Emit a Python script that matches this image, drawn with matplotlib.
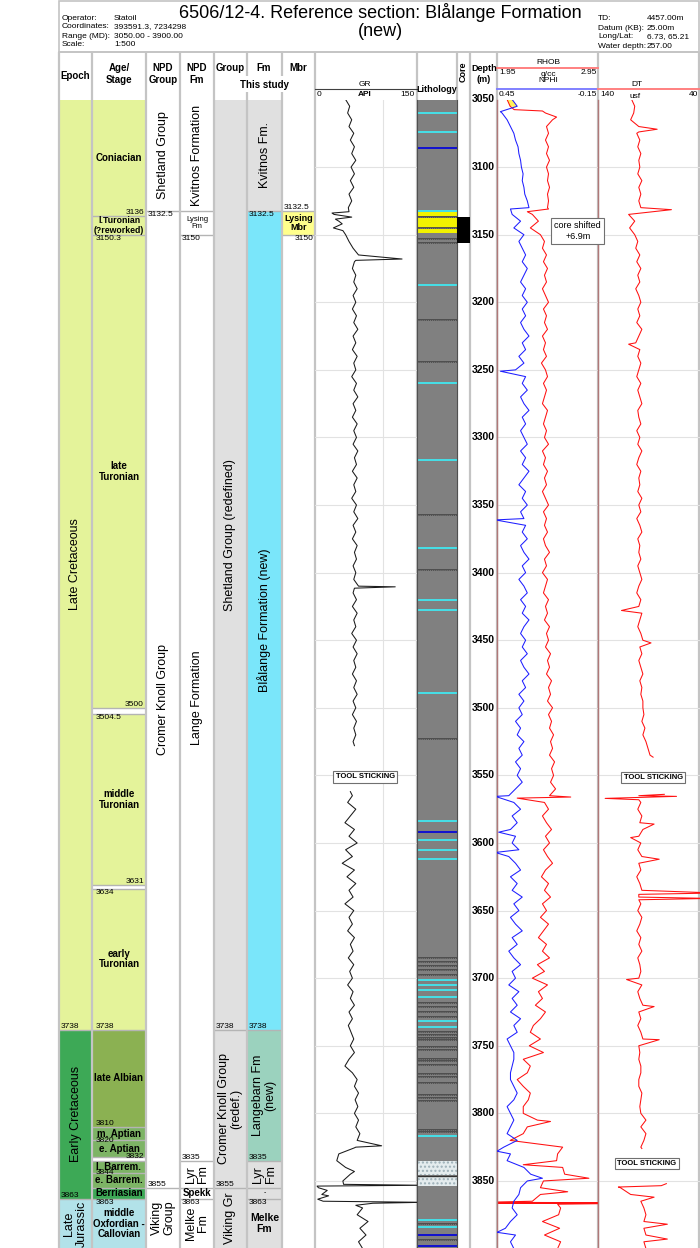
"""Well 6506/12-4: reference section for the Blålange Formation (new)."""

import numpy as np
import matplotlib
matplotlib.use("Agg")
import matplotlib.pyplot as plt
from matplotlib import font_manager
from matplotlib.patches import Rectangle

nan = np.nan

# ---------------- stratigraphy (m MD) ----------------
EPOCH_NAMES = ["Late Cretaceous", "Early Cretaceous", "Late\nJurassic"]
EPOCH_TOPS = [3050, 3738, 3863]
EPOCH_BASES = [3738, 3863, 3900]
EPOCH_COLORS = ["#E4F39A", "#3DA956", "#B2E2E9"]
EPOCH_PICKS = [(3738, "l", "above"), (3863, "l", "above")]

STAGE_NAMES = ["Coniacian", "l.Turonian\n(?reworked)", "late\nTuronian", "",
               "middle\nTuronian", "", "early\nTuronian", "late Albian",
               "m. Aptian", "e. Aptian", "", "l. Barrem.", "e. Barrem.",
               "Berriasian", "middle\nOxfordian -\nCallovian"]
STAGE_TOPS = [3050, 3136, 3150.3, 3500, 3504.5, 3631, 3634, 3738, 3810,
              3820, 3832, 3835, 3844, 3855, 3863]
STAGE_BASES = [3136, 3150.3, 3500, 3504.5, 3631, 3634, 3738, 3810, 3820,
               3832, 3835, 3844, 3855, 3863, 3900]
STAGE_COLORS = ["#E4F39A", "#E4F39A", "#E4F39A", "white", "#E4F39A", "white",
                "#E4F39A", "#8BB152", "#7DB465", "#7DB465", "white", "#7DB465",
                "#7DB465", "#3DA956", "#B2E2E9"]
STAGE_SIZE = [7, 6.3, 7, 7, 7, 7, 7, 7, 7, 7, 7, 7, 7, 7, 7]
STAGE_PICKS = [(3136, "r", "above"), (3150.3, "l", "below"), (3500, "r", "above"),
               (3504.5, "l", "below"), (3631, "r", "above"), (3634, "l", "below"),
               (3738, "l", "above"), (3810, "l", "above"), (3820, "l", "on"),
               (3832, "r", "on"), (3844, "l", "on"), (3863, "l", "below")]

NPD_GROUP_NAMES = ["Shetland Group", "Cromer Knoll Group", "Viking\nGroup"]
NPD_GROUP_TOPS = [3050, 3132.5, 3855]
NPD_GROUP_BASES = [3132.5, 3855, 3900]
NPD_GROUP_PICKS = [(3132.5, "l", "below"), (3855, "l", "above")]

NPD_FM_NAMES = ["Kvitnos Formation", "Lysing\nFm", "Lange Formation", "Lyr\nFm",
                "Spekk", "Melke\nFm"]
NPD_FM_TOPS = [3050, 3132.5, 3150, 3835, 3855, 3863]
NPD_FM_BASES = [3132.5, 3150, 3835, 3855, 3863, 3900]
NPD_FM_ROT = [90, 0, 90, 90, 0, 90]
NPD_FM_SIZE = [9, 5.5, 9, 9, 7, 9]
NPD_FM_WEIGHT = ["normal", "normal", "normal", "normal", "bold", "normal"]
NPD_FM_PICKS = [(3150, "l", "below"), (3835, "l", "above"), (3863, "l", "below")]

GROUP_NAMES = ["Shetland Group (redefined)", "Cromer Knoll Group\n(redef.)", "Viking Gr"]
GROUP_TOPS = [3050, 3738, 3855]
GROUP_BASES = [3738, 3855, 3900]
GROUP_LABEL_AT = [3372, None, None]
GROUP_PICKS = [(3738, "l", "above"), (3855, "l", "above")]

FM_NAMES = ["Kvitnos Fm.", "Blålange Formation (new)", "Langebarn Fm\n(new)",
            "Lyr\nFm", "-", "Melke\nFm"]
FM_TOPS = [3050, 3132.5, 3738, 3835, 3855, 3863]
FM_BASES = [3132.5, 3738, 3835, 3855, 3863, 3900]
FM_COLORS = ["#E0E0E0", "#7AE6FA", "#9BD2BE", "#E0E0E0", "#E0E0E0", "#E0E0E0"]
FM_ROT = [90, 90, 90, 90, 0, 0]
FM_SIZE = [9, 9, 9, 9, 5, 7.5]
FM_WEIGHT = ["normal"] * 5 + ["bold"]
FM_PICKS = [(3132.5, "l", "below"), (3738, "l", "above"), (3835, "l", "above"),
            (3863, "l", "below")]

MBR_NAMES = ["", "Lysing\nMbr", ""]
MBR_TOPS = [3050, 3132.5, 3150]
MBR_BASES = [3132.5, 3150, 3900]
MBR_COLORS = ["white", "#FFFF8C", "white"]
MBR_PICKS = [(3132.5, "l", "above"), (3150, "r", "below")]

# ---------------- lithology / core ----------------
LITH_CYAN = [3060, 3074, 3132.5, 3187, 3260, 3317, 3382, 3420, 3428, 3489,
             3584, 3598, 3605, 3612, 3701, 3705, 3709, 3714, 3732, 3736,
             3817, 3879, 3884]
LITH_BLUE = [3086, 3592, 3890, 3898]
LITH_MARL = [3137, 3145, 3153.5, 3156, 3213, 3244, 3357, 3398, 3523, 3685,
             3688, 3691, 3694, 3697.5, 3718, 3721, 3725, 3729, 3739.5, 3742,
             3744, 3746, 3751, 3753, 3759.5, 3761, 3764.5, 3771, 3773, 3777.5,
             3786.5, 3789, 3791, 3812, 3813.5, 3882, 3894]
LITH_YELLOW_TOPS = [3133.5, 3137.5, 3145.5]
LITH_YELLOW_BASES = [3136.5, 3144.8, 3148.5]
LITH_SAND_TOPS = [3835, 3846.8]
LITH_SAND_BASES = [3845.8, 3853.5]
CORE_TOP, CORE_BASE = 3137, 3156

# ---------------- logs (5 m samples + spikes) ----------------
DEPTH = np.arange(3050, 3901, 5)
DEPTH_TICKS = list(range(3050, 3851, 50))

GR = [45, 51, 48, 54, 50, 57, 52, 58, 54, 60,   # 3050
      53, 58, 52, 57, 50, 54, 49, 28, 35, 27,   # 3100
      45, 50, 56, 64, 58, 55, 60, 57, 62, 56,   # 3150
      60, 55, 61, 57, 63, 56, 60, 55, 62, 57,   # 3200
      60, 54, 61, 57, 63, 56, 60, 55, 62, 57,   # 3250
      61, 56, 63, 58, 61, 55, 62, 57, 60, 54,   # 3300
      61, 57, 63, 56, 60, 55, 62, 58, 61, 56,   # 3350
      60, 57, 64, 56, 61, 55, 62, 57, 60, 54,   # 3400
      61, 56, 62, 57, 60, 55, 61, 57, 62, 56,   # 3450
      60, 55, 61, 57, 60, 56, nan, nan, nan, nan,   # 3500
      nan, nan, nan, 55, 48, 60, 52, 44, 58, 50,    # 3550
      62, 45, 55, 40, 58, 47, 60, 50, 56, 44,   # 3600
      57, 50, 55, 48, 58, 52, 56, 49, 57, 51,   # 3650
      55, 48, 56, 52, 58, 50, 55, 49, 53, 57,   # 3700
      52, 58, 50, 44, 55, 62, 58, 64, 59, 63,   # 3750
      58, 64, 60, 66, 62, 60, 35, 32, 45, 52,   # 3800
      41, 5, 10, 12, 70, 62, 78, 66, 75, 64,    # 3850
      70]
GR_SPIKE_D = [3133, 3134, 3137, 3138.5, 3142, 3147, 3168, 3169, 3410.5, 3411.5,
              3528, 3562, 3824, 3825.5, 3843, 3852.5, 3853.2, 3853.8, 3857, 3861,
              3863.5, 3865.8, 3866.5, 3868]
GR_SPIKE_V = [50, 25, 54, 30, 40, 41, 128, 60, 118, 58,
              58, 52, 98, 58, 58, 42, 160, 3, 18, 20,
              4, 160, 85, 60]

RHOB = [2.05, 2.08, 2.43, 2.50, 2.44, 2.46, 2.43, 2.46, 2.44, 2.47,   # 3050
        2.44, 2.46, 2.45, 2.47, 2.45, 2.46, 2.45, 2.30, 2.36, 2.28,   # 3100
        2.38, 2.42, 2.40, 2.44, 2.41, 2.45, 2.42, 2.44, 2.40, 2.43,   # 3150
        2.46, 2.41, 2.44, 2.42, 2.45, 2.40, 2.43, 2.41, 2.44, 2.39,   # 3200
        2.43, 2.45, 2.41, 2.44, 2.42, 2.40, 2.45, 2.43, 2.41, 2.44,   # 3250
        2.42, 2.46, 2.40, 2.43, 2.41, 2.45, 2.42, 2.44, 2.40, 2.43,   # 3300
        2.46, 2.41, 2.44, 2.42, 2.45, 2.41, 2.43, 2.47, 2.42, 2.44,   # 3350
        2.40, 2.45, 2.43, 2.41, 2.46, 2.43, 2.45, 2.42, 2.47, 2.44,   # 3400
        2.46, 2.43, 2.48, 2.45, 2.47, 2.44, 2.49, 2.46, 2.48, 2.45,   # 3450
        2.50, 2.46, 2.49, 2.47, 2.51, 2.48, 2.50, 2.47, 2.52, 2.49,   # 3500
        2.51, 2.48, 2.53, 2.47, 2.42, 2.46, 2.40, 2.44, 2.49, 2.43,   # 3550
        2.47, 2.41, 2.45, 2.50, 2.43, 2.39, 2.46, 2.42, 2.48, 2.40,   # 3600
        2.44, 2.38, 2.46, 2.41, 2.36, 2.44, 2.40, 2.47, 2.35, 2.42,   # 3650
        2.30, 2.45, 2.36, 2.40, 2.33, 2.43, 2.38, 2.31, 2.28, 2.38,   # 3700
        2.27, 2.41, 2.21, 2.28, 2.25, 2.15, 2.21, 2.28, 2.26, 2.21,   # 3750
        2.21, 2.35, 2.25, 2.21, 2.08, 2.60, 2.55, 2.54, 2.60, 2.62,   # 3800
        2.41, 2.38, 2.38, 2.30, 2.58, 2.56, 2.40, 2.57, 2.42, 2.58,   # 3850
        2.55]
RHOB_SPIKE_D = [3057.5, 3058.5, 3063, 3131, 3133, 3566, 3566.8, 3806, 3838,
                3848, 3858, 3865.8, 3866.1, 3866.4, 3866.7, 3867.2]
RHOB_SPIKE_V = [2.12, 2.40, 2.54, 2.46, 2.25, 2.68, 2.15, 2.48, 2.21,
                2.86, 2.65, 1.80, 3.10, 1.80, 3.10, 2.55]

NPHI = [0.36, 0.33, 0.42, 0.39, 0.37, 0.35, 0.34, 0.325, 0.32, 0.31,   # 3050
        0.305, 0.295, 0.30, 0.29, 0.285, 0.27, 0.26, 0.36, 0.31, 0.35,  # 3100
        0.29, 0.32, 0.30, 0.28, 0.30, 0.27, 0.29, 0.31, 0.28, 0.30,   # 3150
        0.27, 0.30, 0.28, 0.31, 0.29, 0.26, 0.30, 0.28, 0.32, 0.29,   # 3200
        0.34, 0.28, 0.30, 0.27, 0.31, 0.29, 0.26, 0.30, 0.28, 0.31,   # 3250
        0.29, 0.27, 0.31, 0.28, 0.30, 0.26, 0.29, 0.32, 0.28, 0.30,   # 3300
        0.27, 0.31, 0.29, 0.28, 0.30, 0.27, 0.31, 0.29, 0.26, 0.30,   # 3350
        0.28, 0.32, 0.29, 0.27, 0.31, 0.28, 0.30, 0.26, 0.29, 0.31,   # 3400
        0.28, 0.30, 0.27, 0.31, 0.29, 0.26, 0.30, 0.28, 0.32, 0.29,   # 3450
        0.32, 0.30, 0.34, 0.31, 0.33, 0.29, 0.32, 0.30, 0.34, 0.31,   # 3500
        0.33, 0.30, 0.34, 0.38, 0.35, 0.31, 0.36, 0.33, 0.37, 0.34,   # 3550
        0.36, 0.32, 0.38, 0.34, 0.31, 0.37, 0.33, 0.36, 0.30, 0.35,   # 3600
        0.32, 0.37, 0.34, 0.30, 0.36, 0.33, 0.38, 0.35, 0.31, 0.36,   # 3650
        0.34, 0.38, 0.32, 0.36, 0.33, 0.37, 0.31, 0.35, 0.33, 0.39,   # 3700
        0.37, 0.35, 0.35, 0.36, 0.37, 0.37, 0.35, 0.33, 0.35, 0.39,   # 3750
        0.37, 0.35, 0.37, 0.39, 0.33, 0.41, 0.37, 0.39, 0.29, 0.25,   # 3800
        0.27, 0.31, 0.32, 0.35, 0.36, 0.33, 0.37, 0.40, 0.34, 0.37,   # 3850
        0.35]
NPHI_SPIKE_D = [3059, 3131, 3251, 3361, 3565.5, 3592, 3607, 3828, 3848, 3888]
NPHI_SPIKE_V = [0.43, 0.37, 0.43, 0.46, 0.46, 0.44, 0.46, 0.45, 0.18, 0.45]

DT = [107, 104, 105, 108, 100, 102, 99, 101, 98, 100,   # 3050
      99, 101, 97, 100, 98, 100, 98, 110, 104, 109,     # 3100
      104, 101, 103, 99, 102, 98, 101, 99, 103, 100,    # 3150
      98, 101, 99, 102, 97, 100, 103, 99, 101, 98,      # 3200
      100, 102, 98, 101, 99, 97, 101, 100, 98, 102,     # 3250
      99, 101, 97, 100, 102, 98, 100, 99, 101, 97,      # 3300
      100, 98, 102, 99, 97, 101, 99, 100, 98, 101,      # 3350
      99, 97, 100, 102, 98, 100, 97, 99, 101, 98,       # 3400
      96, 99, 97, 100, 98, 96, 99, 97, 98, 96,          # 3450
      96, 95, 97, 94, 96, 93, 91, 89, nan, nan,         # 3500
      nan, nan, nan, 100, 98, 101, 97, 99, 96, 100,     # 3550
      98, 101, 97, 100, 98, 102, 99, 97, 100, 98,       # 3600
      101, 97, 99, 102, 98, 100, 97, 101, 99, 98,       # 3650
      100, 97, 101, 99, 96, 100, 98, 101, 98, 96,       # 3700
      100, 99, 100, 98, 98, 100, 100, 97, 98, 99,       # 3750
      98, 93, 98, 93, 95, 98, nan, nan, nan, nan,       # 3800
      nan, 118, 108, 98, 95, 93, 95, 95, 93, 95,        # 3850
      93]
DT_SPIKE_D = [3072, 3074, 3131.5, 3231, 3428, 3452, 3536.5, 3564, 3565.5, 3567,
              3568, 3586, 3596, 3612, 3637, 3638, 3641, 3642, 3701, 3721,
              3745.5, 3826, 3852, 3853.5, 3854.5, 3862, 3882, 3893]
DT_SPIKE_V = [82, 100, 68, 110, 117, 88, 86, 75, 63, 133,
              100, 85, 108, 80, 25, 100, 30, 100, 112, 85,
              80, 97, 73, 78, 120, 85, 72, 72]

for series in (GR, RHOB, NPHI, DT):
    assert len(series) == len(DEPTH)

# ---------------- layout (pixels) ----------------
W, H = 700, 1248
TOP_PX, BOT_PX = 99.5, 1248.0
D_TOP, D_BOT = 3050.0, 3899.6
COLS = {"epoch": (59, 92), "age": (92, 146), "npd_group": (146, 180),
        "npd_fm": (180, 214), "group": (214, 247), "fm": (247, 282),
        "mbr": (282, 315), "gr": (315, 417), "lith": (417, 457),
        "core": (457, 470), "depth": (470, 497), "rhob": (497, 598),
        "dt": (598, 700)}

FONT = "Liberation Sans"
_installed = {f.name for f in font_manager.fontManager.ttflist}
NARROW = "Liberation Sans Narrow" if "Liberation Sans Narrow" in _installed else FONT
plt.rcParams["font.family"] = [FONT, "DejaVu Sans"]

CELL_LINE = "#B4B4B4"
SEP = "#C4C4C4"
TRACK_EDGE = "#B07878"
GRID = "#E2E2E2"


def add_track(fig, key, z=1):
    x0, x1 = COLS[key]
    ax = fig.add_axes([x0 / W, 1 - BOT_PX / H, (x1 - x0) / W, (BOT_PX - TOP_PX) / H])
    ax.set_ylim(D_BOT, D_TOP)
    ax.set_facecolor("none")
    ax.set_zorder(z)
    ax.set_xticks([])
    ax.set_yticks([])
    for s in ax.spines.values():
        s.set_visible(False)
    return ax


def draw_column(ax, names, tops, bases, colors, rots=None, sizes=None,
                weights=None, label_at=None):
    n = len(names)
    rots = rots or [90] * n
    sizes = sizes or [9] * n
    weights = weights or ["normal"] * n
    ax.set_xlim(0, 1)
    tr = ax.get_yaxis_transform()
    for i in range(n):
        ax.axhspan(tops[i], bases[i], color=colors[i], lw=0, zorder=0)
        if tops[i] > D_TOP:
            ax.axhline(tops[i], color=CELL_LINE, lw=1.0, zorder=1)
        if names[i]:
            y = (tops[i] + bases[i]) / 2
            if label_at and label_at[i]:
                y = label_at[i]
            ax.text(0.5, y, names[i], transform=tr, rotation=rots[i],
                    ha="center", va="center", fontsize=sizes[i],
                    fontweight=weights[i], linespacing=1.05, zorder=2)


def draw_picks(ax, picks):
    tr = ax.get_yaxis_transform()
    for depth, side, pos in picks:
        x, ha = (0.06, "left") if side == "l" else (0.96, "right")
        va = {"above": "bottom", "below": "top", "on": "center"}[pos]
        ax.text(x, depth, f"{depth:g}", transform=tr, ha=ha, va=va,
                fontsize=6, family=NARROW, zorder=3)


def merged(values, spike_d, spike_v):
    d = np.concatenate([DEPTH, np.asarray(spike_d, float)])
    v = np.concatenate([np.asarray(values, float), np.asarray(spike_v, float)])
    order = np.argsort(d, kind="stable")
    return d[order], v[order]


def depth_grid(ax):
    for d in DEPTH_TICKS[1:]:
        ax.axhline(d, color=GRID, lw=0.8, zorder=0)


def tag(ax, x, y, text, transform=None):
    ax.text(x, y, text, ha="center", va="center", fontsize=5.5, fontweight="bold",
            transform=transform or ax.transData, zorder=6,
            bbox=dict(boxstyle="square,pad=0.3", fc="white", ec="#707070", lw=0.8))


def main() -> None:
    fig = plt.figure(figsize=(W / 100, H / 100), dpi=100)

    # stratigraphic columns
    ax = add_track(fig, "epoch")
    draw_column(ax, EPOCH_NAMES, EPOCH_TOPS, EPOCH_BASES, EPOCH_COLORS)
    draw_picks(ax, EPOCH_PICKS)

    ax = add_track(fig, "age")
    draw_column(ax, STAGE_NAMES, STAGE_TOPS, STAGE_BASES, STAGE_COLORS,
                rots=[0] * len(STAGE_NAMES), sizes=STAGE_SIZE,
                weights=["bold"] * len(STAGE_NAMES))
    draw_picks(ax, STAGE_PICKS)

    ax = add_track(fig, "npd_group")
    draw_column(ax, NPD_GROUP_NAMES, NPD_GROUP_TOPS, NPD_GROUP_BASES, ["white"] * 3)
    draw_picks(ax, NPD_GROUP_PICKS)

    ax = add_track(fig, "npd_fm")
    draw_column(ax, NPD_FM_NAMES, NPD_FM_TOPS, NPD_FM_BASES, ["white"] * 6,
                rots=NPD_FM_ROT, sizes=NPD_FM_SIZE, weights=NPD_FM_WEIGHT)
    draw_picks(ax, NPD_FM_PICKS)

    ax = add_track(fig, "group")
    draw_column(ax, GROUP_NAMES, GROUP_TOPS, GROUP_BASES, ["#E0E0E0"] * 3,
                label_at=GROUP_LABEL_AT)
    draw_picks(ax, GROUP_PICKS)

    ax = add_track(fig, "fm")
    draw_column(ax, FM_NAMES, FM_TOPS, FM_BASES, FM_COLORS, rots=FM_ROT,
                sizes=FM_SIZE, weights=FM_WEIGHT)
    draw_picks(ax, FM_PICKS)

    ax = add_track(fig, "mbr")
    draw_column(ax, MBR_NAMES, MBR_TOPS, MBR_BASES, MBR_COLORS,
                rots=[0, 0, 0], sizes=[6.5] * 3, weights=["bold"] * 3)
    draw_picks(ax, MBR_PICKS)

    # GR track
    ax_gr = add_track(fig, "gr", z=3)
    ax_gr.set_xlim(0, 150)
    depth_grid(ax_gr)
    ax_gr.axvline(100, color=GRID, lw=0.8, zorder=0)
    d, v = merged(GR, GR_SPIKE_D, GR_SPIKE_V)
    ax_gr.plot(v, d, color="#1A1A1A", lw=0.75)
    tag(ax_gr, 74, 3551, "TOOL STICKING")

    # lithology
    ax_li = add_track(fig, "lith", z=3)
    ax_li.set_xlim(0, 1)
    ax_li.axhspan(D_TOP, 3900, color="#808080", lw=0)
    for t, b in zip(LITH_YELLOW_TOPS, LITH_YELLOW_BASES):
        ax_li.axhspan(t, b, color="#F2F200", lw=0)
    for t, b in zip(LITH_SAND_TOPS, LITH_SAND_BASES):
        ax_li.axhspan(t, b, facecolor="#E4ECEE", edgecolor="#9DB0B8", hatch="....", lw=0)
    ax_li.axhline(3846.3, color="#303030", lw=1.0)
    for dd in LITH_MARL:
        ax_li.axhline(dd, color="#4A4A4A", lw=1.3)
        ax_li.axhline(dd, color="#8C8C8C", lw=0.5, ls=(0, (1.5, 1.5)))
    for dd in LITH_CYAN:
        ax_li.axhline(dd, color="#45E0E8", lw=1.4)
    for dd in LITH_BLUE:
        ax_li.axhline(dd, color="#1010D0", lw=1.4)
    for side in ("left", "right"):
        ax_li.spines[side].set_visible(True)
        ax_li.spines[side].set_color("#505050")
        ax_li.spines[side].set_linewidth(0.8)

    # core
    ax_co = add_track(fig, "core", z=3)
    ax_co.set_xlim(0, 1)
    ax_co.axhspan(CORE_TOP, CORE_BASE, color="black", lw=0)

    # depth labels
    ax_de = add_track(fig, "depth", z=3)
    ax_de.set_xlim(0, 1)
    for dd in DEPTH_TICKS:
        ax_de.text(0.5, dd, str(dd), ha="center", va="center", fontsize=7.5,
                   fontweight="bold", transform=ax_de.get_yaxis_transform())

    # DT track
    ax_dt = add_track(fig, "dt", z=3)
    ax_dt.set_xlim(140, 40)
    depth_grid(ax_dt)
    d, v = merged(DT, DT_SPIKE_D, DT_SPIKE_V)
    ax_dt.plot(v, d, color="#FF1010", lw=0.75)
    tag(ax_dt, 86, 3551.5, "TOOL STICKING")
    tag(ax_dt, 92, 3837, "TOOL STICKING")

    # RHOB / NPHI track
    ax_rh = add_track(fig, "rhob", z=4)
    ax_rh.set_xlim(1.95, 2.95)
    depth_grid(ax_rh)
    rhob_b = np.asarray(RHOB, float)
    nphi_on_rhob = 1.95 + (0.45 - np.asarray(NPHI, float)) / 0.6
    ax_rh.fill_betweenx(DEPTH, rhob_b, nphi_on_rhob, where=nphi_on_rhob > rhob_b,
                        color="#FFF25A", lw=0, interpolate=True)
    d, v = merged(RHOB, RHOB_SPIKE_D, RHOB_SPIKE_V)
    ax_rh.plot(v, d, color="#FF1010", lw=0.75)
    for side in ("left", "right"):
        ax_rh.spines[side].set_visible(True)
        ax_rh.spines[side].set_color(TRACK_EDGE)
        ax_rh.spines[side].set_linewidth(1.0)
    ax_np = ax_rh.twiny()
    ax_np.set_zorder(5)
    ax_np.set_facecolor("none")
    ax_np.set_xlim(0.45, -0.15)
    ax_np.set_xticks([])
    for s in ax_np.spines.values():
        s.set_visible(False)
    d, v = merged(NPHI, NPHI_SPIKE_D, NPHI_SPIKE_V)
    ax_np.plot(v, d, color="#1E1EFF", lw=0.75)
    ax_np.text(2.75, 3147.4, "core shifted\n+6.9m", transform=ax_rh.transData,
               ha="center", va="center", fontsize=6.5, zorder=6, clip_on=False,
               bbox=dict(boxstyle="square,pad=0.35", fc="white", ec="#707070", lw=0.8))

    # header overlay (pixel coordinates)
    ov = fig.add_axes([0, 0, 1, 1])
    ov.set_xlim(0, W)
    ov.set_ylim(H, 0)
    ov.axis("off")
    ov.set_zorder(2)
    ov.add_patch(Rectangle((58.5, 0.5), 640.5, 51.5, fill=False, ec=SEP, lw=1.2))
    ov.text(380, 13, "6506/12-4. Reference section: Blålange Formation",
            ha="center", va="center", fontsize=13)
    ov.text(380, 31, "(new)", ha="center", va="center", fontsize=13)

    info_left = [("Operator:", "Statoil"), ("Coordinates:", "393591.3, 7234298"),
                 ("Range (MD):", "3050.00 - 3900.00"), ("Scale:", "1:500")]
    info_right = [("TD:", "4457.00m"), ("Datum (KB):", "25.00m"),
                  ("Long/Lat:", "6.73, 65.21"), ("Water depth:", "257.00")]
    fs_info = 6.8 if NARROW != FONT else 6.0
    for y, (a, b), (c, e) in zip([18, 27, 36, 45], info_left, info_right):
        ov.text(62, y, a, va="center", fontsize=fs_info, family=NARROW)
        ov.text(114, y, b, va="center", fontsize=fs_info, family=NARROW)
        ov.text(598, y + 1, c, va="center", fontsize=fs_info, family=NARROW)
        ov.text(647, y + 1, e, va="center", fontsize=fs_info, family=NARROW)

    # column separators
    for x in (59, 92, 146, 180, 214, 315, 417, 457, 470, 497, 598, 699):
        ov.plot([x, x], [52, H], color=SEP, lw=1.6, solid_capstyle="butt")
    for x in (247, 282):
        ov.plot([x, x], [52, 76], color=SEP, lw=1.6, solid_capstyle="butt")
        ov.plot([x, x], [92, H], color=SEP, lw=1.6, solid_capstyle="butt")

    hdr = dict(ha="center", va="center", fontsize=7, fontweight="bold", linespacing=1.15)
    ov.text(75, 76, "Epoch", **hdr)
    ov.text(119, 74, "Age/\nStage", **hdr)
    ov.text(163, 74, "NPD\nGroup", **hdr)
    ov.text(197, 74, "NPD\nFm", **hdr)
    ov.text(230, 68, "Group", **hdr)
    ov.text(264, 68, "Fm", **hdr)
    ov.text(298, 68, "Mbr", **hdr)
    ov.text(264, 85, "This study", **hdr)

    small = dict(va="center", fontsize=6)
    ov.text(365, 84, "GR", ha="center", **small)
    ov.plot([315, 417], [89, 89], color="#404040", lw=0.8)
    ov.text(317, 95, "0", ha="left", **small)
    ov.text(365, 95, "API", ha="center", fontweight="bold", **small)
    ov.text(415, 95, "150", ha="right", **small)

    ov.text(437, 89, "Lithology", ha="center", va="center", fontsize=6.5, fontweight="bold")
    ov.text(463, 72, "Core", ha="center", va="center", fontsize=6.5,
            fontweight="bold", rotation=90)
    ov.text(484, 74, "Depth\n(m)", ha="center", va="center", fontsize=6.5,
            fontweight="bold", linespacing=1.2)

    ov.text(548, 62, "RHOB", ha="center", **small)
    ov.plot([497, 598], [68, 68], color="#FF8080", lw=1.4)
    ov.text(499, 73, "1.95", ha="left", **small)
    ov.text(548, 74, "g/cc", ha="center", **small)
    ov.text(597, 73, "2.95", ha="right", **small)
    ov.text(548, 81, "NPHI", ha="center", **small)
    ov.plot([497, 598], [89, 89], color="#8080FF", lw=1.4)
    ov.text(499, 95, "0.45", ha="left", **small)
    ov.text(597, 95, "-0.15", ha="right", **small)

    ov.text(637, 84, "DT", ha="center", **small)
    ov.plot([598, 700], [89, 89], color="#FF8080", lw=1.4)
    ov.text(600, 95, "140", ha="left", **small)
    ov.text(635, 96, "usf", ha="center", **small)
    ov.text(698, 95, "40", ha="right", **small)
    ov.plot([59, 699], [52, 52], color=SEP, lw=1.2)

    fig.savefig("out.png", dpi=100)
    print("Saved plot to out.png")


if __name__ == "__main__":
    main()
